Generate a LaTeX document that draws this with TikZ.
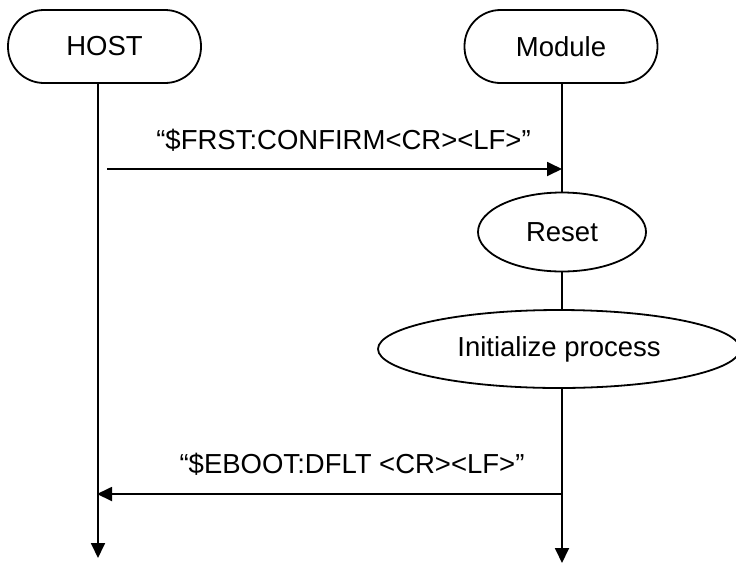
\documentclass[tikz,border=0pt]{standalone}
\usepackage{fontspec}
\setmainfont{Liberation Sans}
\usetikzlibrary{arrows.meta,shapes.geometric}
\begin{document}
\begin{tikzpicture}[x=1pt,y=-1pt,
  lw/.style={line width=1.8pt},
  tip/.style={-{Triangle[length=15pt,width=14pt]}},
  txt/.style={font=\fontsize{27.5}{32}\selectfont},
  actor/.style={draw,lw,txt,rounded corners=36pt,minimum width=193pt,minimum height=73pt,inner sep=0pt},
  proc/.style={draw,lw,txt,ellipse,inner sep=0pt},
  lbl/.style={txt,inner sep=0pt}]
\useasboundingbox (0,0) rectangle (736,563);
\node[actor] (host) at (104.5,46.5) {HOST};
\node[actor] (mod) at (561,46.5) {Module};
\node[proc,minimum width=168pt,minimum height=79pt] (reset) at (562,232) {Reset};
\node[proc,minimum width=362pt,minimum height=78pt] (init) at (559,349) {Initialize process};
\coordinate (hx) at (98,83);
\coordinate (mx) at (562,83);
\coordinate (hend) at (98,558);
\coordinate (mend) at (562,563);
\coordinate (a1s) at (107,169);
\coordinate (a1e) at (562,169);
\coordinate (a2s) at (562,494);
\coordinate (a2e) at (97,494);
\draw[lw,tip] (hx) -- (hend);
\draw[lw] (mx) -- (reset.north);
\draw[lw] (reset.south) -- (reset.south |- init.north);
\draw[lw,tip] (reset.south |- init.south) -- (mend);
\draw[lw,tip] (a1s) -- (a1e);
\draw[lw,tip] (a2s) -- (a2e);
\node[lbl] (l1) at (343.5,140) {“\$FRST:CONFIRM<CR><LF>”};
\node[lbl] (l2) at (352,464) {“\$EBOOT:DFLT <CR><LF>”};
\end{tikzpicture}
\end{document}
